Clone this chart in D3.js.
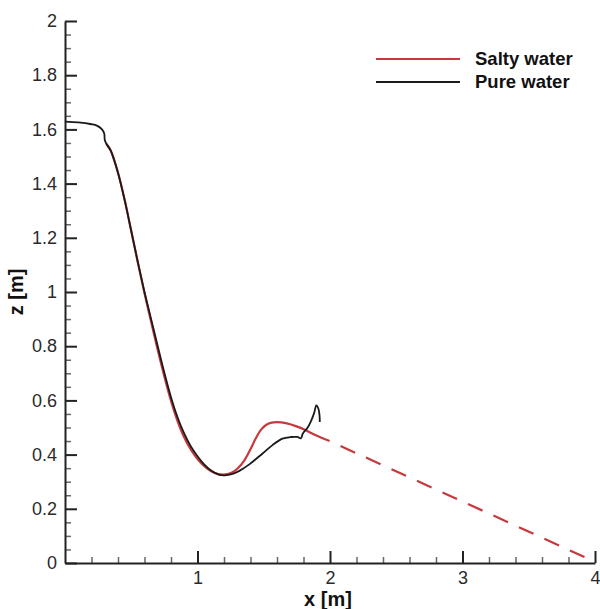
<!DOCTYPE html>
<html>
<head>
<meta charset="utf-8">
<script src="https://cdn.jsdelivr.net/npm/d3@7"></script>
<style>
  body { margin: 0; background: #fff; }
  text { font-family: "Liberation Sans", Arial, sans-serif; }
</style>
</head>
<body>
<svg id="canvas" width="600" height="609"></svg>
<script>
// pure water profile (x [m], z [m])
const pureWater = [
  [0.000, 1.629], [0.100, 1.626], [0.200, 1.619], [0.240, 1.614], [0.276, 1.602],
  [0.296, 1.585], [0.300, 1.562], [0.313, 1.546], [0.345, 1.522], [0.370, 1.488],
  [0.400, 1.440], [0.450, 1.340], [0.500, 1.225], [0.550, 1.110], [0.600, 1.000],
  [0.650, 0.900], [0.700, 0.800], [0.750, 0.702], [0.800, 0.612], [0.850, 0.537],
  [0.900, 0.477], [0.950, 0.430], [1.000, 0.394], [1.050, 0.364], [1.100, 0.342],
  [1.165, 0.325], [1.220, 0.324], [1.270, 0.330], [1.316, 0.340], [1.391, 0.364],
  [1.491, 0.404], [1.566, 0.435], [1.641, 0.459], [1.705, 0.465], [1.754, 0.465],
  [1.780, 0.460], [1.795, 0.478], [1.829, 0.498], [1.855, 0.522], [1.880, 0.553],
  [1.897, 0.582], [1.912, 0.570], [1.921, 0.545], [1.923, 0.520]
];

// salty water profile
const saltyWater = [
  [0.313, 1.546], [0.345, 1.522], [0.400, 1.440], [0.450, 1.340], [0.500, 1.225],
  [0.550, 1.108], [0.600, 0.995], [0.650, 0.890], [0.700, 0.786], [0.750, 0.688],
  [0.800, 0.598], [0.850, 0.523], [0.900, 0.463], [0.950, 0.418], [1.000, 0.384],
  [1.050, 0.358], [1.100, 0.339], [1.150, 0.329], [1.210, 0.327], [1.260, 0.334],
  [1.300, 0.348], [1.353, 0.378], [1.400, 0.420], [1.440, 0.460], [1.480, 0.492],
  [1.520, 0.510], [1.560, 0.518], [1.600, 0.520], [1.667, 0.516], [1.742, 0.505],
  [1.817, 0.490], [1.893, 0.471], [1.997, 0.450]
];

// dashed continuation of the salty profile
const saltyExtension = [[1.997, 0.450], [3.930, 0.020]];

const xTicks = [1, 2, 3, 4];
const xTickLabels = ['1', '2', '3', '4'];
const xMinorTicks = [0.2, 0.4, 0.6, 0.8, 1.2, 1.4, 1.6, 1.8, 2.2, 2.4, 2.6, 2.8, 3.2, 3.4, 3.6, 3.8];
const yTicks = [0, 0.2, 0.4, 0.6, 0.8, 1, 1.2, 1.4, 1.6, 1.8, 2];
const yTickLabels = ['0', '0.2', '0.4', '0.6', '0.8', '1', '1.2', '1.4', '1.6', '1.8', '2'];
const yMinorTicks = d3.range(1, 40).map(i => i * 0.05).filter(v => Math.round(v * 100) % 20 !== 0);

const legendNames = ['Salty water', 'Pure water'];
const legendColors = ['#c6393c', '#1a1a1a'];

const canvas = d3.select('#canvas');

const xScale = d3.scaleLinear().domain([0, 4]).range([65, 595]);
const yScale = d3.scaleLinear().domain([0, 2]).range([563, 21]);

// minor ticks first so the axis lines sit on top
canvas.append('g')
  .attr('transform', 'translate(0,563)')
  .call(d3.axisBottom(xScale).tickValues(xMinorTicks).tickSize(-6).tickFormat(''))
  .call(g => g.select('.domain').remove())
  .call(g => g.selectAll('line').attr('stroke', '#666').attr('stroke-width', 1.5));

canvas.append('g')
  .attr('transform', 'translate(65,0)')
  .call(d3.axisLeft(yScale).tickValues(yMinorTicks).tickSize(-6).tickFormat(''))
  .call(g => g.select('.domain').remove())
  .call(g => g.selectAll('line').attr('stroke', '#666').attr('stroke-width', 1.5));

const xAxis = canvas.append('g')
  .attr('transform', 'translate(0,563)')
  .call(d3.axisBottom(xScale).tickValues(xTicks).tickSize(-12).tickSizeOuter(0)
    .tickPadding(8).tickFormat((d, i) => xTickLabels[i]));

const yAxis = canvas.append('g')
  .attr('transform', 'translate(65,0)')
  .call(d3.axisLeft(yScale).tickValues(yTicks).tickSize(-12).tickSizeOuter(0)
    .tickPadding(8).tickFormat((d, i) => yTickLabels[i]));

[xAxis, yAxis].forEach(ax => {
  ax.select('.domain').attr('stroke', '#222').attr('stroke-width', 2);
  ax.selectAll('.tick line').attr('stroke', '#222').attr('stroke-width', 2);
  ax.selectAll('.tick text')
    .attr('fill', '#2a2a2a')
    .style('font-family', '"Liberation Sans", Arial, sans-serif')
    .style('font-size', '18px');
});

const line = d3.line()
  .x(d => xScale(d[0]))
  .y(d => yScale(d[1]))
  .curve(d3.curveCatmullRom.alpha(0.5));

canvas.append('path')
  .datum(saltyExtension)
  .attr('d', line)
  .attr('fill', 'none')
  .attr('stroke', legendColors[0])
  .attr('stroke-width', 2.2)
  .attr('stroke-dasharray', '16,12')
  .attr('stroke-dashoffset', 16);

canvas.append('path')
  .datum(saltyWater)
  .attr('d', line)
  .attr('fill', 'none')
  .attr('stroke', legendColors[0])
  .attr('stroke-width', 2.2);

canvas.append('path')
  .datum(pureWater)
  .attr('d', line)
  .attr('fill', 'none')
  .attr('stroke', legendColors[1])
  .attr('stroke-width', 1.8);

// axis titles
canvas.append('text')
  .attr('x', 328)
  .attr('y', 606)
  .attr('text-anchor', 'middle')
  .attr('font-weight', 'bold')
  .attr('font-size', 20)
  .attr('fill', '#111')
  .text('x [m]');

canvas.append('text')
  .attr('transform', 'translate(23,292) rotate(-90)')
  .attr('text-anchor', 'middle')
  .attr('font-weight', 'bold')
  .attr('font-size', 20)
  .attr('fill', '#111')
  .text('z [m]');

// legend
const legend = canvas.selectAll('.legend')
  .data(legendNames)
  .enter()
  .append('g')
  .attr('class', 'legend')
  .attr('transform', (d, i) => `translate(0,${59 + i * 23})`);

legend.append('line')
  .attr('x1', 376)
  .attr('x2', 460)
  .attr('stroke', (d, i) => legendColors[i])
  .attr('stroke-width', 2.2);

legend.append('text')
  .attr('x', 475)
  .attr('y', 6)
  .attr('font-weight', 'bold')
  .attr('font-size', 18.5)
  .attr('fill', '#111')
  .text(d => d);
</script>
</body>
</html>
